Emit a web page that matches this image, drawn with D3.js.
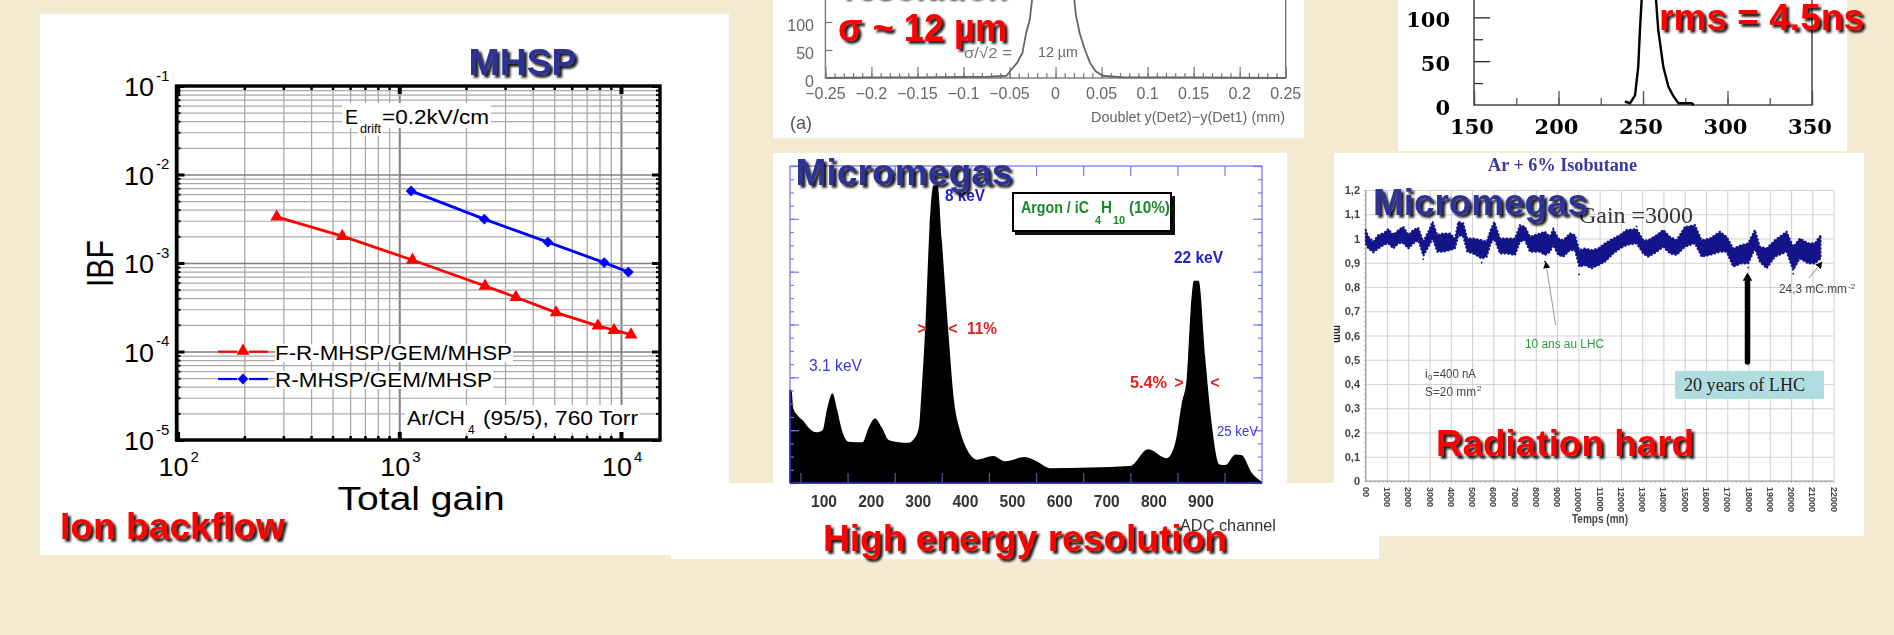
<!DOCTYPE html>
<html lang="en">
<head>
    <meta charset="UTF-8">
    <title>Detector performance slide</title>
    <script src="https://d3js.org/d3.v7.min.js"></script>
    <style>
        html, body { margin: 0; padding: 0; background: #F5EBD3; overflow: hidden; }
        svg { display: block; filter: blur(0.55px); }
        text { font-family: "Liberation Sans", Arial, sans-serif; }
    </style>
</head>
<body>
<svg id="slide" width="1894" height="635"></svg>
<script>
    // Ion backflow panel, [total gain, IBF]
    const frMhsp = [[280, 0.00332], [553, 0.00201], [1146, 0.00108], [2438, 0.00055], [3357, 0.00041],
        [5100, 0.000275], [7870, 0.000195], [9300, 0.000174], [11100, 0.000155]];
    const rMhsp = [[1130, 0.00653], [2420, 0.00313], [4680, 0.00172], [8400, 0.00101], [10800, 0.00079]];
    const ibfDecadesX = [100, 1000, 10000];
    const ibfDecadesY = [1e-1, 1e-2, 1e-3, 1e-4, 1e-5];
    const ibfExpX = ["2", "3", "4"];
    const ibfExpY = ["-1", "-2", "-3", "-4", "-5"];

    // Doublet residuals, top middle, [mm, counts]
    const doublet = [[-0.25, 0], [-0.2, 1], [-0.15, 1], [-0.1, 2], [-0.075, 2], [-0.0534, 4], [-0.0495, 12], [-0.0418, 27],
        [-0.0359, 45], [-0.032, 80], [-0.028, 104], [-0.0255, 140], [-0.015, 220], [-0.003, 280], [0.01, 220],
        [0.0204, 140], [0.022, 113], [0.0262, 80], [0.032, 50], [0.0375, 27], [0.0436, 12], [0.0515, 4],
        [0.075, 1], [0.15, 1], [0.25, 0]];
    const doubletTicks = [-0.25, -0.2, -0.15, -0.1, -0.05, 0, 0.05, 0.1, 0.15, 0.2, 0.25];
    const doubletTickLabels = ["\u22120.25", "\u22120.2", "\u22120.15", "\u22120.1", "\u22120.05", "0", "0.05", "0.1", "0.15", "0.2", "0.25"];

    // Timing histogram, top right, [ns, counts]
    const timing = [[239.3, 4], [242.3, 2], [245.3, 11], [247.2, 44], [248.2, 86], [249.2, 120], [252, 200], [254, 250],
        [256, 200], [257.7, 120], [259, 86], [262, 44], [265, 21], [268, 10], [271, 2], [278.8, 2], [280, 0]];
    const timingLabelsX = [150, 200, 250, 300, 350];
    const timingLabelsY = [0, 50, 100];

    // Micromegas spectrum, [ADC channel, height in y major divisions]
    const spectrum = [[28, 1.77], [31, 1.76], [35, 1.41], [45, 1.27], [56, 1.18], [67, 1.05], [84, 0.96], [97, 1.0],
        [106, 1.38], [118, 1.7], [128, 1.38], [137, 1.03], [152, 0.78], [182, 0.77], [194, 1.03], [208, 1.22], [222, 1.06],
        [238, 0.81], [279, 0.76], [293, 0.86], [302, 1.09], [306, 1.6], [315, 2.96], [324, 4.84], [332, 5.63], [341, 5.63],
        [350, 4.59], [363, 2.96], [376, 1.55], [389, 0.98], [402, 0.66], [419, 0.46], [424, 0.44], [459, 0.51], [484, 0.41],
        [526, 0.49], [551, 0.41], [580, 0.28], [749, 0.32], [788, 0.64], [827, 0.47], [845, 0.75], [859, 1.5], [870, 2.0],
        [878, 3.26], [885, 3.83], [895, 3.83], [909, 2.37], [922, 1.17], [939, 0.35], [952, 0.34], [973, 0.54], [986, 0.53],
        [1008, 0.19], [1030, 0.02]];
    const spectrumLabels = [100, 200, 300, 400, 500, 600, 700, 800, 900];
    const spectrumTicks = [50, 150, 250, 350, 450, 550, 650, 750, 850, 950];

    // Ageing scan, [minutes, low edge of the band, high edge of the band]
    const ageing = [[0, 0.98, 1.035], [124, 0.959, 1.007], [359, 0.943, 0.987], [594, 0.959, 1.014], [829, 0.973, 1.021],
        [1064, 0.98, 1.039], [1299, 0.959, 1.014], [1534, 0.98, 1.035], [1769, 0.98, 1.048], [2004, 0.959, 1.014],
        [2239, 0.98, 1.035], [2474, 0.993, 1.044], [2709, 0.929, 0.987], [2944, 0.966, 1.028], [3148, 1.0, 1.069],
        [3367, 0.945, 1.014], [3649, 0.945, 1.021], [3963, 0.952, 1.021], [4198, 0.959, 1.0], [4355, 1.014, 1.069],
        [4590, 1.007, 1.062], [4778, 0.945, 1.0], [5060, 0.938, 1.0], [5453, 0.918, 0.993], [5688, 0.925, 0.987],
        [5876, 0.98, 1.035], [6047, 1.0, 1.069], [6313, 0.938, 1.0], [6628, 0.938, 1.0], [7020, 0.932, 1.0],
        [7255, 0.987, 1.055], [7489, 0.993, 1.048], [7724, 0.945, 1.007], [7959, 0.945, 1.014], [8194, 0.945, 1.021],
        [8429, 0.932, 1.028], [8664, 0.945, 1.007], [8820, 0.973, 1.039], [9055, 0.932, 1.0], [9289, 0.925, 0.993],
        [9604, 0.952, 1.021], [9839, 0.952, 1.014], [10041, 0.884, 0.952], [10309, 0.89, 0.959], [10624, 0.877, 0.952],
        [10935, 0.89, 0.959], [11250, 0.904, 0.98], [11640, 0.938, 1.0], [11955, 0.959, 1.014], [12270, 0.973, 1.035],
        [12740, 0.98, 1.039], [13050, 0.938, 0.993], [13285, 0.925, 0.993], [13680, 0.945, 1.014], [13990, 0.966, 1.035],
        [14305, 0.938, 1.007], [14620, 0.932, 0.993], [15010, 0.966, 1.048], [15480, 0.98, 1.055], [15795, 0.925, 0.993],
        [16186, 0.932, 1.0], [16656, 0.945, 1.028], [16970, 0.945, 1.007], [17280, 0.884, 0.959], [17675, 0.897, 0.973],
        [17985, 0.897, 0.98], [18300, 0.959, 1.035], [18535, 0.904, 0.966], [18850, 0.877, 0.959], [19240, 0.925, 0.993],
        [19790, 0.945, 1.028], [20100, 0.87, 0.966], [20415, 0.918, 1.0], [20805, 0.897, 0.98], [21120, 0.897, 0.98],
        [21390, 0.918, 1.014]];
    const ageingSpecks = [[10041, 0.852], [5453, 0.9], [8429, 0.905], [2709, 0.915], [17985, 0.88], [20100, 0.855], [1299, 1.02], [12740, 1.05]];
    const ageingLabelsY = [0, 0.1, 0.2, 0.3, 0.4, 0.5, 0.6, 0.7, 0.8, 0.9, 1, 1.1, 1.2];
    const ageingLabelsX = ["00", "1000", "2000", "3000", "4000", "5000", "6000", "7000", "8000", "9000", "10000", "11000",
        "12000", "13000", "14000", "15000", "16000", "17000", "18000", "19000", "20000", "21000", "22000"];

    const RED = "#FF0000";
    const BLUE_TITLE = "#2E3192";
    const svg = d3.select("#slide");

    const defs = svg.append("defs");
    const shadow = defs.append("filter").attr("id", "shadow").attr("x", "-10%").attr("y", "-20%").attr("width", "120%").attr("height", "150%");
    shadow.append("feDropShadow").attr("dx", 2.8).attr("dy", 2.8).attr("stdDeviation", 1.3).attr("flood-color", "#000").attr("flood-opacity", 0.9);
    // the two top scans are more washed out than the others
    defs.append("filter").attr("id", "soft").attr("filterUnits", "userSpaceOnUse")
        .attr("x", 0).attr("y", 0).attr("width", 1894).attr("height", 635)
        .append("feGaussianBlur").attr("stdDeviation", 0.6);

    // text helper: y is the middle of the line, len squeezes the text to a measured width
    function label(parent, x, y, str, o = {}) {
        const t = parent.append("text")
            .attr("x", x)
            .attr("y", y)
            .attr("dominant-baseline", "central")
            .attr("text-anchor", o.anchor || "start")
            .attr("font-size", o.size || 14)
            .attr("fill", o.fill || "#000")
            .attr("font-weight", o.weight || "normal")
            .text(str);
        if (o.family) t.style("font-family", o.family);
        if (o.len) t.attr("textLength", o.len).attr("lengthAdjust", "spacingAndGlyphs");
        if (o.rotate) t.attr("transform", `rotate(${o.rotate} ${x} ${y})`);
        if (o.shadow) t.attr("filter", "url(#shadow)");
        return t;
    }

    function whiteRect(parent, x0, y0, x1, y1, fill = "#fff") {
        parent.append("rect").attr("x", x0).attr("y", y0).attr("width", x1 - x0).attr("height", y1 - y0).attr("fill", fill);
    }

    function styleTicks(g, color, width) {
        g.select(".domain").remove();
        g.selectAll(".tick line").attr("stroke", color).attr("stroke-width", width);
        g.selectAll(".tick text").remove();
    }

    // white paper behind the charts
    const panels = svg.append("g");
    whiteRect(panels, 40, 14, 729, 555);
    whiteRect(panels, 773, 0, 1304, 138);
    whiteRect(panels, 1398, 0, 1847, 151);
    whiteRect(panels, 773, 153, 1287, 483);
    whiteRect(panels, 1334, 153, 1864, 536);
    whiteRect(panels, 671, 483, 1379, 559);

    drawIbf(svg.append("g"));
    drawDoublet(svg.append("g").attr("filter", "url(#soft)"));
    drawTiming(svg.append("g").attr("filter", "url(#soft)"));
    drawSpectrum(svg.append("g"));
    drawAgeing(svg.append("g"));
    drawTitles(svg.append("g"));

    function drawIbf(g) {
        const x = d3.scaleLog().domain([100, 15000]).range([177.6, 660]);
        const y = d3.scaleLog().domain([1e-5, 1e-1]).range([440, 86]);
        const minorX = [], minorY = [];
        ibfDecadesX.forEach(d => d3.range(2, 10).forEach(m => { if (d * m < 15000) minorX.push(d * m); }));
        ibfDecadesY.slice(1).forEach(d => d3.range(2, 10).forEach(m => minorY.push(d * m)));

        // grid
        g.append("g").attr("transform", "translate(0,440)")
            .call(d3.axisBottom(x).tickValues(minorX).tickSize(-354)).call(s => styleTicks(s, "#a8a8a8", 1.3));
        g.append("g").attr("transform", "translate(0,440)")
            .call(d3.axisBottom(x).tickValues(ibfDecadesX).tickSize(-354)).call(s => styleTicks(s, "#808080", 2));
        g.append("g").attr("transform", "translate(176.5,0)")
            .call(d3.axisLeft(y).tickValues(minorY).tickSize(-483)).call(s => styleTicks(s, "#a8a8a8", 1.2));
        g.append("g").attr("transform", "translate(176.5,0)")
            .call(d3.axisLeft(y).tickValues(ibfDecadesY).tickSize(-483)).call(s => styleTicks(s, "#808080", 1.6));

        // notes sit on white patches that hide the grid
        whiteRect(g, 342, 103, 491, 128);
        whiteRect(g, 358, 124, 383, 136);
        whiteRect(g, 275, 344, 513, 362);
        whiteRect(g, 275, 371, 493, 389);
        whiteRect(g, 405, 405, 640, 433);

        // inner ticks on all four sides
        [[440, d3.axisBottom], [86, d3.axisTop]].forEach(([pos, axis]) => {
            g.append("g").attr("transform", `translate(0,${pos})`)
                .call(axis(x).tickValues(minorX).tickSize(-4)).call(t => styleTicks(t, "#000", 2.5));
            g.append("g").attr("transform", `translate(0,${pos})`)
                .call(axis(x).tickValues(ibfDecadesX).tickSize(-8)).call(t => styleTicks(t, "#000", 4));
        });
        [[176.5, d3.axisLeft], [660, d3.axisRight]].forEach(([pos, axis]) => {
            g.append("g").attr("transform", `translate(${pos},0)`)
                .call(axis(y).tickValues(minorY).tickSize(-4)).call(t => styleTicks(t, "#000", 2));
            g.append("g").attr("transform", `translate(${pos},0)`)
                .call(axis(y).tickValues(ibfDecadesY).tickSize(-8)).call(t => styleTicks(t, "#000", 3));
        });
        g.append("rect").attr("x", 176.5).attr("y", 86).attr("width", 483.5).attr("height", 354)
            .attr("fill", "none").attr("stroke", "#000").attr("stroke-width", 3.4);

        const line = d3.line().x(d => x(d[0])).y(d => y(d[1]));
        const triangle = d3.symbol().type(d3.symbolTriangle).size(72);
        const diamond = d3.symbol().type(d3.symbolSquare).size(58);

        g.append("path").attr("d", line(frMhsp)).attr("fill", "none").attr("stroke", "#f00").attr("stroke-width", 2.8);
        g.append("path").attr("d", line(rMhsp)).attr("fill", "none").attr("stroke", "#00f").attr("stroke-width", 2.8);
        g.selectAll(".tri").data(frMhsp).join("path").attr("class", "tri").attr("d", triangle).attr("fill", "#f00")
            .attr("transform", d => `translate(${x(d[0])},${y(d[1])})`);
        g.selectAll(".dia").data(rMhsp).join("path").attr("class", "dia").attr("d", diamond).attr("fill", "#00f")
            .attr("transform", d => `translate(${x(d[0])},${y(d[1])}) rotate(45)`);

        // tick labels with powers of ten
        ibfDecadesX.forEach((d, i) => {
            label(g, x(d) - 19, 467, "10", { size: 25, len: 30 });
            label(g, x(d) + 13, 456, ibfExpX[i], { size: 15 });
        });
        ibfDecadesY.forEach((d, i) => {
            label(g, 124, y(d) + 1, "10", { size: 25, len: 30 });
            label(g, 156, y(d) - 11, ibfExpY[i], { size: 15 });
        });

        label(g, 101, 263.6, "IBF", { size: 36, len: 47, anchor: "middle", rotate: -90 });
        label(g, 337.6, 498, "Total gain", { size: 33, len: 167 });

        label(g, 345, 117, "E", { size: 20, len: 13 });
        label(g, 360, 129, "drift", { size: 12, len: 21 });
        label(g, 382, 117, "=0.2kV/cm", { size: 20, len: 107 });

        // legend
        [[218, 237], [249, 268]].forEach(s => {
            g.append("line").attr("x1", s[0]).attr("x2", s[1]).attr("y1", 351.7).attr("y2", 351.7).attr("stroke", "#f00").attr("stroke-width", 2.2);
            g.append("line").attr("x1", s[0]).attr("x2", s[1]).attr("y1", 379).attr("y2", 379).attr("stroke", "#00f").attr("stroke-width", 2.2);
        });
        g.append("path").attr("d", triangle).attr("fill", "#f00").attr("transform", "translate(243,351)");
        g.append("path").attr("d", diamond).attr("fill", "#00f").attr("transform", "translate(243,379) rotate(45)");
        label(g, 275, 353, "F-R-MHSP/GEM/MHSP", { size: 20, len: 237 });
        label(g, 275, 380, "R-MHSP/GEM/MHSP", { size: 20, len: 217 });

        label(g, 407, 417.7, "Ar/CH", { size: 20, len: 58 });
        label(g, 468, 430, "4", { size: 12 });
        label(g, 483, 417.7, "(95/5), 760 Torr", { size: 20, len: 155 });
    }

    function drawDoublet(g) {
        const GREY = "#777";
        const x = d3.scaleLinear().domain([-0.25, 0.25]).range([825.4, 1285.7]);
        const y = d3.scaleLinear().domain([0, 300]).range([78, -90]);

        g.append("g").attr("transform", "translate(0,78)")
            .call(d3.axisBottom(x).tickValues(d3.range(-25, 26).map(d => d / 100)).tickSize(-5)).call(s => styleTicks(s, GREY, 1.2));
        g.append("g").attr("transform", "translate(0,78)")
            .call(d3.axisBottom(x).tickValues(doubletTicks).tickSize(-11)).call(s => styleTicks(s, GREY, 1.2));
        g.append("g").attr("transform", "translate(825.4,0)")
            .call(d3.axisLeft(y).tickValues([50, 100]).tickSize(-7)).call(s => styleTicks(s, GREY, 1.2));
        g.append("rect").attr("x", 825.4).attr("y", -90).attr("width", 460.3).attr("height", 168)
            .attr("fill", "none").attr("stroke", GREY).attr("stroke-width", 1.4);

        g.append("path").datum(doublet)
            .attr("d", d3.line().x(d => x(d[0])).y(d => y(d[1])))
            .attr("fill", "none").attr("stroke", "#666").attr("stroke-width", 1.8);

        doubletTicks.forEach((d, i) => label(g, x(d), 93, doubletTickLabels[i], { size: 16, fill: "#666", anchor: "middle" }));
        timingLabelsY.forEach(d => label(g, 814, y(d) + 3, String(d), { size: 16, fill: "#666", anchor: "end" }));

        label(g, 964, 52, "\u03c3/\u221a2 =", { size: 15, fill: "#777", len: 48 });
        label(g, 1038, 51, "12 \u00b5m", { size: 15, fill: "#666", len: 40 });
        label(g, 1091, 116, "Doublet   y(Det2)\u2212y(Det1) (mm)", { size: 15, fill: "#666", len: 194 });
        label(g, 790, 123, "(a)", { size: 18, fill: "#555" });
    }

    function drawTiming(g) {
        const x = d3.scaleLinear().domain([150, 350]).range([1474, 1812]);
        const y = d3.scaleLinear().domain([0, 300]).range([105, -158]);

        g.append("g").attr("transform", "translate(0,105)")
            .call(d3.axisBottom(x).tickValues(d3.range(150, 351, 25)).tickSize(-7)).call(s => styleTicks(s, "#555", 1.3));
        g.append("g").attr("transform", "translate(0,105)")
            .call(d3.axisBottom(x).tickValues(timingLabelsX).tickSize(-14)).call(s => styleTicks(s, "#555", 1.3));
        g.append("g").attr("transform", "translate(1474,0)")
            .call(d3.axisLeft(y).tickValues([25, 75, 125]).tickSize(-9)).call(s => styleTicks(s, "#333", 1.3));
        g.append("g").attr("transform", "translate(1474,0)")
            .call(d3.axisLeft(y).tickValues([50, 100]).tickSize(-16)).call(s => styleTicks(s, "#333", 1.4));
        g.append("rect").attr("x", 1474).attr("y", -158).attr("width", 338).attr("height", 263)
            .attr("fill", "none").attr("stroke", "#444").attr("stroke-width", 1.5);

        g.append("path").datum(timing)
            .attr("d", d3.line().x(d => x(d[0])).y(d => y(d[1])))
            .attr("fill", "none").attr("stroke", "#000").attr("stroke-width", 2.4);

        const serif = '"DejaVu Serif", serif';
        timingLabelsX.forEach(d => label(g, x(d) - 2, 126, String(d), { size: 21, weight: "bold", anchor: "middle", family: serif }));
        timingLabelsY.forEach(d => label(g, 1450, y(d) + 2, String(d), { size: 21, weight: "bold", anchor: "end", family: serif }));
    }

    function drawSpectrum(g) {
        const DARK = "#1a1a9a", LIGHT = "#7a7aee", CYAN = "#2222cc";
        const x = d3.scaleLinear().domain([100, 900]).range([824, 1201]);
        const y = d3.scaleLinear().domain([0, 6]).range([483, 166]);

        g.append("path").datum(spectrum)
            .attr("d", d3.area().x(d => x(d[0])).y0(y(0)).y1(d => y(d[1])).curve(d3.curveMonotoneX))
            .attr("fill", "#000");

        // ticks point inwards, the labels sit between them as in the original
        g.append("g").attr("transform", "translate(0,483)")
            .call(d3.axisBottom(x).tickValues(spectrumTicks).tickSize(-10)).call(s => styleTicks(s, "#5a5a9a", 1.2));
        g.append("g").attr("transform", "translate(0,166)")
            .call(d3.axisTop(x).tickValues(spectrumTicks).tickSize(-10)).call(s => styleTicks(s, LIGHT, 1.2));
        [[790, d3.axisLeft], [1262, d3.axisRight]].forEach(([pos, axis]) => {
            g.append("g").attr("transform", `translate(${pos},0)`)
                .call(axis(y).tickValues(d3.range(0, 6.01, 0.25)).tickSize(-4)).call(s => styleTicks(s, LIGHT, 1.2));
            g.append("g").attr("transform", `translate(${pos},0)`)
                .call(axis(y).tickValues(d3.range(0, 6.01, 1)).tickSize(-9)).call(s => styleTicks(s, LIGHT, 1.2));
        });
        g.append("rect").attr("x", 790).attr("y", 166).attr("width", 472).attr("height", 317)
            .attr("fill", "none").attr("stroke", LIGHT).attr("stroke-width", 1.3);
        g.append("line").attr("x1", 790).attr("x2", 1262).attr("y1", 483).attr("y2", 483).attr("stroke", DARK).attr("stroke-width", 1.6);
        g.append("line").attr("x1", 790).attr("x2", 790).attr("y1", 390).attr("y2", 483).attr("stroke", DARK).attr("stroke-width", 1.4);

        spectrumLabels.forEach(d => label(g, x(d), 501, String(d), { size: 17, fill: "#333", anchor: "middle", len: 26, weight: "bold" }));
        label(g, 1180, 525, "ADC channel", { size: 17, fill: "#333", len: 96 });

        label(g, 945, 195, "8 keV", { size: 16, fill: CYAN, weight: "bold", len: 40 });
        label(g, 1174, 257, "22 keV", { size: 17, fill: CYAN, weight: "bold", len: 49 });
        label(g, 809, 365, "3.1 keV", { size: 17, fill: "#3a3ad8", len: 53 });
        label(g, 1217, 431, "25 keV", { size: 14, fill: "#3a3ad8", len: 41 });

        label(g, 922, 328, ">", { size: 16, fill: "#e02020", anchor: "middle", weight: "bold" });
        label(g, 953, 328, "<", { size: 16, fill: "#e02020", anchor: "middle", weight: "bold" });
        label(g, 967, 328, "11%", { size: 17, fill: "#e02020", len: 30, weight: "bold" });
        label(g, 1130, 382, "5.4%", { size: 17, fill: "#e02020", len: 37, weight: "bold" });
        label(g, 1179, 382, ">", { size: 16, fill: "#e02020", anchor: "middle", weight: "bold" });
        label(g, 1215, 382, "<", { size: 16, fill: "#e02020", anchor: "middle", weight: "bold" });

        // gas mixture box with its hard shadow
        whiteRect(g, 1015, 196, 1175, 235, "#111");
        g.append("rect").attr("x", 1013).attr("y", 193).attr("width", 158).attr("height", 38)
            .attr("fill", "#fff").attr("stroke", "#000").attr("stroke-width", 2);
        label(g, 1021, 207, "Argon / iC", { size: 17, fill: "#1a8a2a", weight: "bold", len: 68 });
        label(g, 1095, 220, "4", { size: 11, fill: "#1a8a2a", weight: "bold" });
        label(g, 1101, 207, "H", { size: 17, fill: "#1a8a2a", weight: "bold", len: 11 });
        label(g, 1113, 220, "10", { size: 11, fill: "#1a8a2a", weight: "bold" });
        label(g, 1129, 207, "(10%)", { size: 17, fill: "#1a8a2a", weight: "bold", len: 41 });
    }

    function drawAgeing(g) {
        const x = d3.scaleLinear().domain([0, 22000]).range([1365.7, 1833.6]);
        const y = d3.scaleLinear().domain([0, 1.2]).range([481, 190]);
        const NAVY = "#14148a";

        g.append("g").attr("transform", "translate(0,481)")
            .call(d3.axisBottom(x).ticks(22).tickSize(-291)).call(s => styleTicks(s, "#d2d2d2", 1.1));
        g.append("g").attr("transform", "translate(1365.7,0)")
            .call(d3.axisLeft(y).tickValues(ageingLabelsY).tickSize(-468)).call(s => styleTicks(s, "#d2d2d2", 1.1));

        // small tick marks under and left of the plot
        g.append("g").attr("transform", "translate(0,481)")
            .call(d3.axisBottom(x).tickValues(d3.range(0, 22001, 200)).tickSize(2)).call(s => styleTicks(s, "#aaa", 0.7));
        g.append("g").attr("transform", "translate(1365.7,0)")
            .call(d3.axisLeft(y).tickValues(d3.range(0, 1.201, 0.02)).tickSize(2)).call(s => styleTicks(s, "#aaa", 0.7));
        g.append("line").attr("x1", 1365.7).attr("x2", 1833.6).attr("y1", 481).attr("y2", 481).attr("stroke", "#999");
        g.append("line").attr("x1", 1365.7).attr("x2", 1365.7).attr("y1", 190).attr("y2", 481).attr("stroke", "#999");

        // the dashed round stroke gives the band its dotty edge
        const band = d3.area().x(d => x(d[0])).y0(d => y(d[1])).y1(d => y(d[2]));
        g.append("path").datum(ageing).attr("d", band).attr("fill", NAVY).attr("stroke", NAVY)
            .attr("stroke-width", 2).attr("stroke-dasharray", "0.6 3.1").attr("stroke-linecap", "round");
        g.selectAll(".speck").data(ageingSpecks).join("circle").attr("class", "speck")
            .attr("cx", d => x(d[0])).attr("cy", d => y(d[1])).attr("r", 0.9).attr("fill", NAVY);

        ageingLabelsY.forEach(d => label(g, 1360, y(d), String(d).replace(".", ","), { size: 11, fill: "#444", anchor: "end", weight: "bold" }));
        ageingLabelsX.forEach((d, i) => label(g, x(i * 1000), 487, d, { size: 9, fill: "#444", weight: "bold", rotate: 90 }));

        label(g, 1572, 519, "Temps (mn)", { size: 12, fill: "#444", weight: "bold", len: 56 });
        label(g, 1337, 334, "mm", { size: 10, fill: "#222", weight: "bold", anchor: "middle", rotate: 90 });
        label(g, 1488, 165, "Ar + 6% Isobutane", { size: 18, fill: "#3a3a9e", weight: "bold", family: '"Liberation Serif", serif', len: 149 });
        label(g, 1579, 215, "Gain =3000", { size: 23, fill: "#333", family: '"Liberation Serif", serif', len: 114 });
        label(g, 1525, 344, "10 ans au LHC", { size: 12, fill: "#2a9a3a", len: 79 });
        label(g, 1425, 374, "i", { size: 12, fill: "#444" });
        label(g, 1428, 377, "0", { size: 8, fill: "#444" });
        label(g, 1433, 374, "=400 nA", { size: 12, fill: "#444", len: 43 });
        label(g, 1425, 392, "S=20 mm", { size: 12, fill: "#444", len: 51 });
        label(g, 1477, 388, "2", { size: 8, fill: "#444" });
        label(g, 1779, 289, "24,3 mC.mm", { size: 12, fill: "#444", len: 68 });
        label(g, 1848, 286, "-2", { size: 8, fill: "#444" });

        // arrows
        defs.append("marker").attr("id", "head").attr("viewBox", "0 0 10 10").attr("refX", 9).attr("refY", 5)
            .attr("markerWidth", 7).attr("markerHeight", 7).attr("markerUnits", "userSpaceOnUse").attr("orient", "auto")
            .append("path").attr("d", "M0,0L10,5L0,10Z").attr("fill", "#000");
        g.append("line").attr("x1", 1555.7).attr("y1", 325).attr("x2", 1545.7).attr("y2", 262)
            .attr("stroke", "#999").attr("stroke-width", 1).attr("marker-end", "url(#head)");
        g.append("line").attr("x1", 1809).attr("y1", 278).attr("x2", 1822).attr("y2", 262)
            .attr("stroke", "#888").attr("stroke-width", 1).attr("marker-end", "url(#head)");
        g.append("line").attr("x1", 1747.5).attr("y1", 362).attr("x2", 1747.5).attr("y2", 280)
            .attr("stroke", "#000").attr("stroke-width", 5.5).attr("stroke-linecap", "round");
        g.append("path").attr("d", d3.symbol().type(d3.symbolTriangle).size(40)).attr("fill", "#000").attr("transform", "translate(1747.5,278)");

        whiteRect(g, 1675, 371, 1824, 399, "#B2DDE0");
        label(g, 1684, 385, "20 years of LHC", { size: 18, fill: "#222", family: '"Liberation Serif", serif', len: 121 });
    }

    function drawTitles(g) {
        const big = { size: 37, weight: "bold", shadow: true };
        label(g, 468.5, 62, "MHSP", { ...big, fill: BLUE_TITLE, len: 108 });
        label(g, 60, 526, "Ion backflow", { ...big, fill: RED, len: 225 });
        label(g, 795.5, 172, "Micromegas", { ...big, fill: BLUE_TITLE, len: 217 });
        label(g, 1373, 202, "Micromegas", { ...big, fill: BLUE_TITLE, len: 215 });
        label(g, 823, 538, "High energy resolution", { ...big, size: 36, fill: RED, len: 404 });
        label(g, 1436, 443, "Radiation hard", { ...big, fill: RED, len: 258 });
        label(g, 838, 28, "\u03c3 ~ 12 \u00b5m", { ...big, size: 38, fill: RED, len: 169 });
        label(g, 1659, 17, "rms = 4.5ns", { ...big, fill: RED, len: 205 });
        label(g, 842, -15, "resolution", { ...big, fill: RED, len: 164 });
    }
</script>
</body>
</html>
